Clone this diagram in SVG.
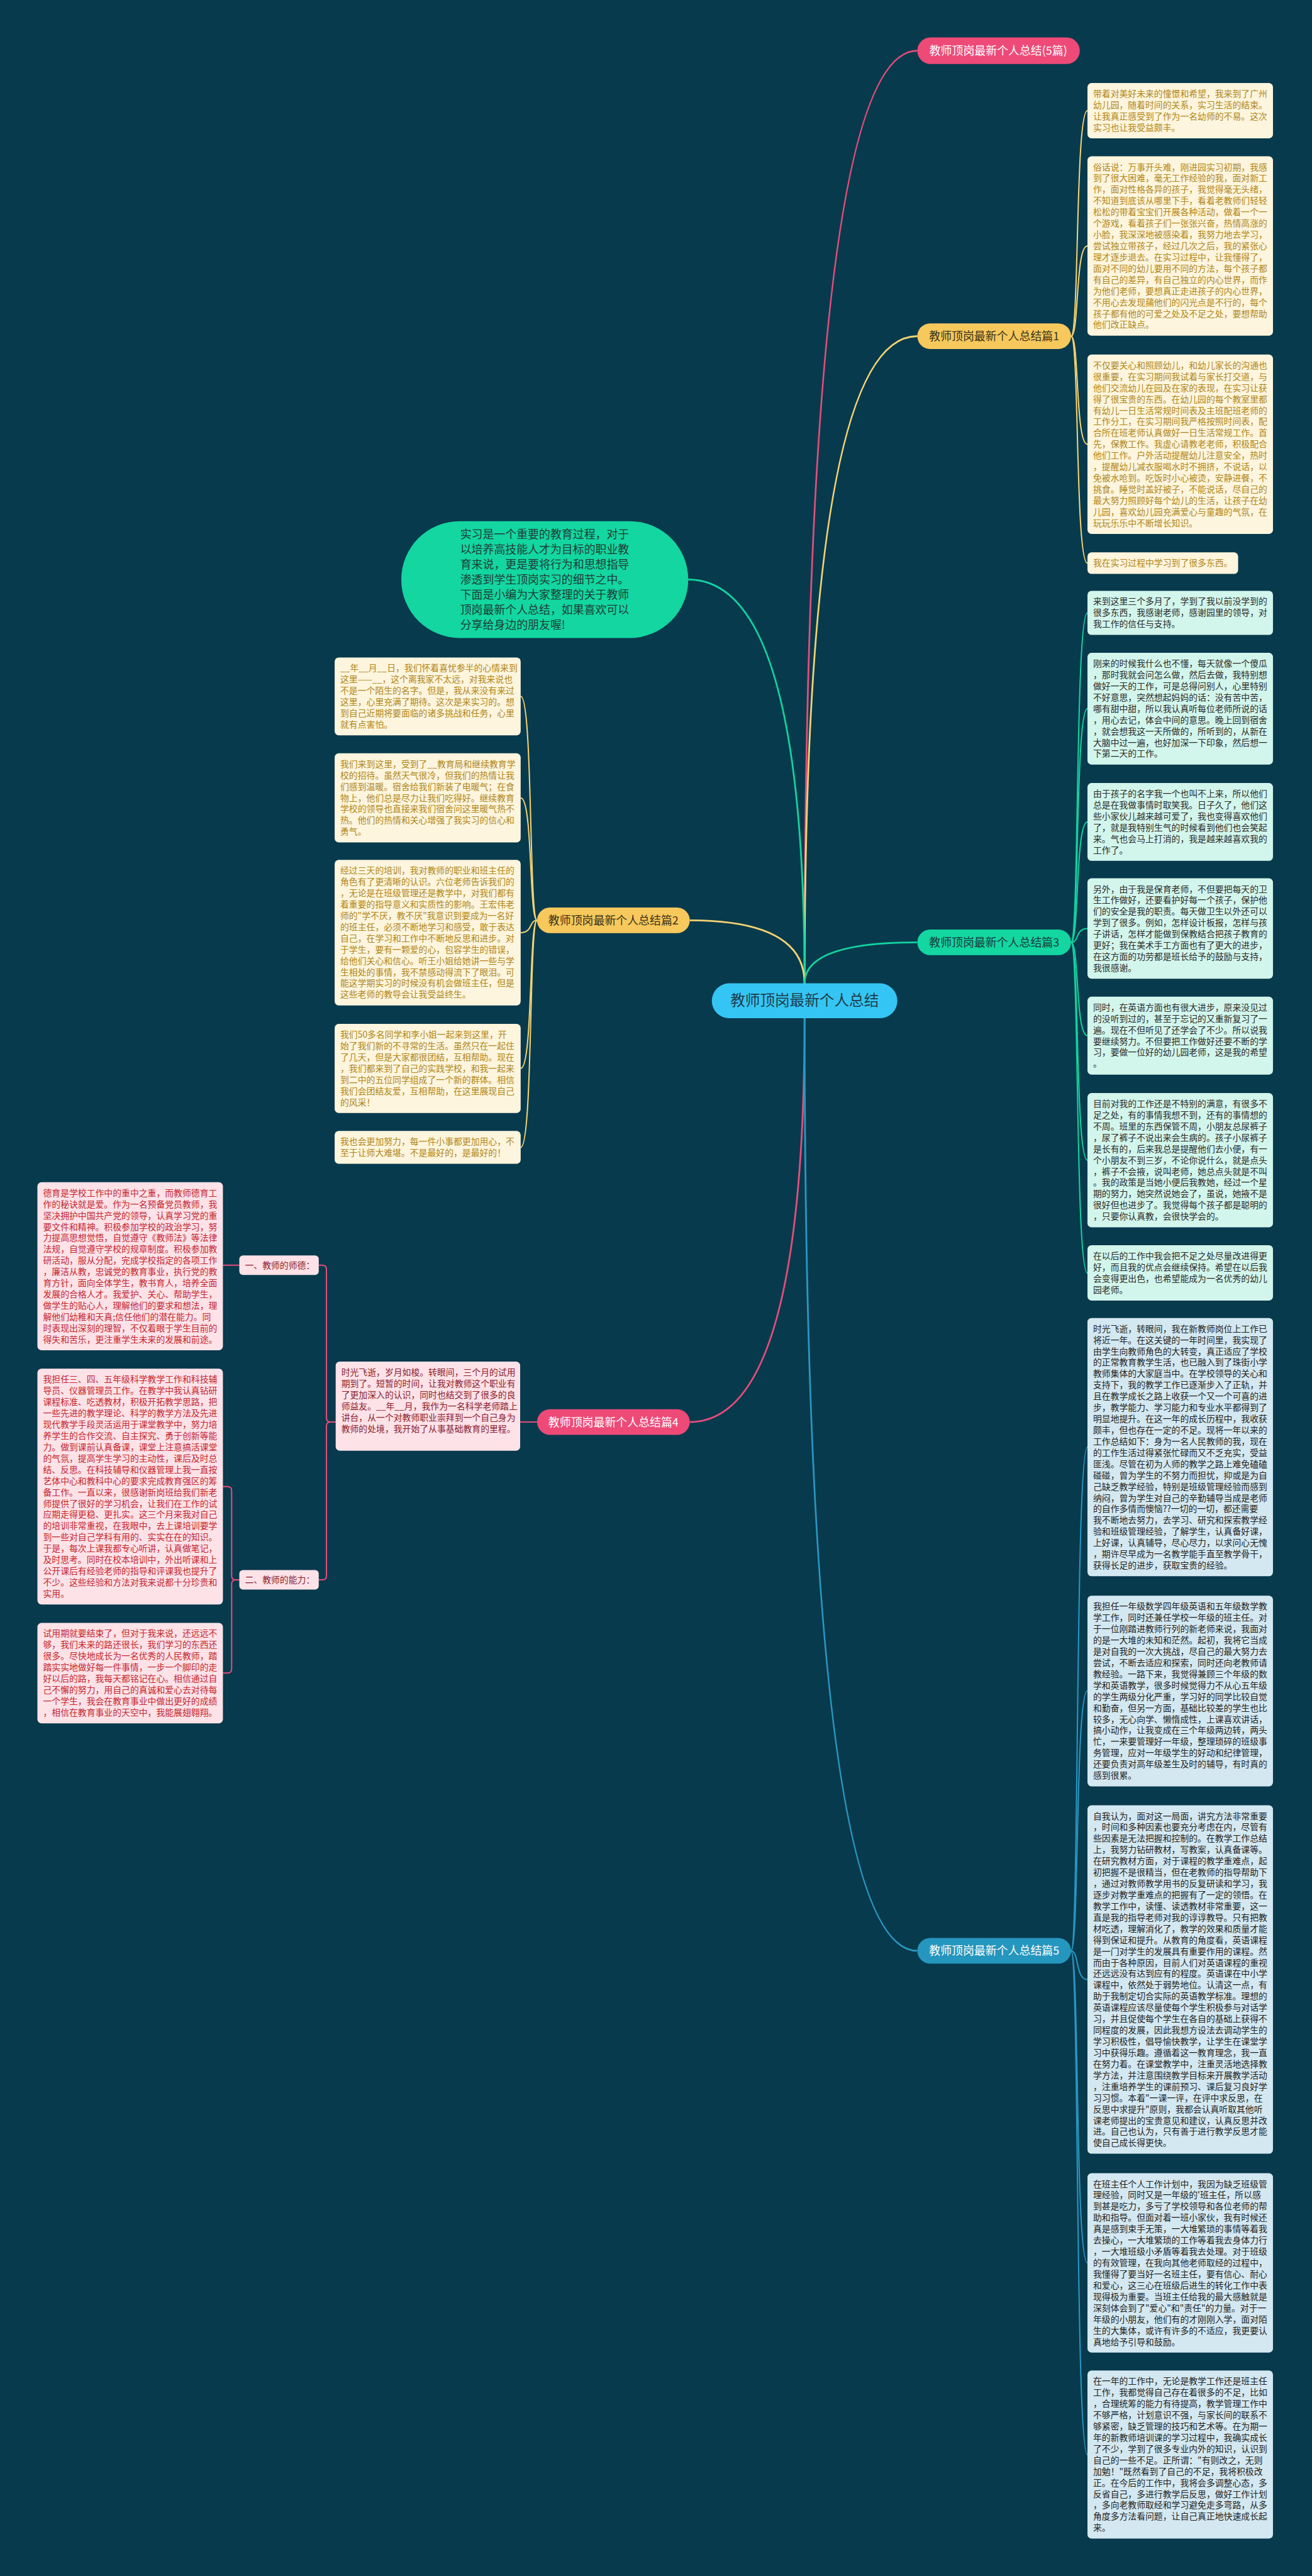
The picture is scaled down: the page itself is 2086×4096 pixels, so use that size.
<svg xmlns="http://www.w3.org/2000/svg" width="2086" height="4096" viewBox="0 0 2086 4096">
<style>
text{font-family:"Noto Sans CJK SC","Noto Sans",sans-serif}
.c{fill:none;stroke-width:3.5}
.b{fill:none;stroke-width:2.5}
.cy{stroke:#f5d373}.cg{stroke:#13d3a0}.cp{stroke:#e84d7b}.cb{stroke:#2a97c2}
.by{fill:#fdf5dd}.bg2{fill:#d2f6ec}.bb{fill:#d3e8f1}.bp{fill:#fde2e8}
.ty{fill:#b0851a;font-size:17px}.tg{fill:#2a2a2a;font-size:17px}.tb{fill:#1f1f1f;font-size:17px}.tp{fill:#c4262f;font-size:17px}.td{fill:#8b1c2c;font-size:17px}
.nt{font-size:22px;text-anchor:middle}
</style>
<rect width="2086" height="4096" fill="#083a4d"/>
<g transform="scale(0.8148)">
<g id="connectors">
<path class="c cp" d="M1570,1919 Q1570,99 1790,99"/>
<path class="c cy" d="M1570,1919 Q1570,656 1790,656"/>
<path class="c cg" d="M1570,1919 Q1570,1131 1343,1131"/>
<path class="c cy" d="M1570,1919 Q1570,1796 1346,1796"/>
<path class="c cg" d="M1570,1919 Q1570,1839 1790,1839"/>
<path class="c cp" d="M1570,1987 Q1570,2775 1346,2775"/>
<path class="c cb" d="M1570,1987 Q1570,3807 1790,3807"/>
<g class="b cy">
<path d="M2090,656 C2106,656 2098,216 2122,216"/>
<path d="M2090,656 C2106,656 2098,480 2122,480"/>
<path d="M2090,656 C2106,656 2098,867 2122,867"/>
<path d="M2090,656 C2106,656 2098,1099 2122,1099"/>
<path d="M1048,1796 C1032,1796 1040,1359 1016,1359"/>
<path d="M1048,1796 C1032,1796 1040,1557 1016,1557"/>
<path d="M1048,1796 C1032,1796 1040,1820 1016,1820"/>
<path d="M1048,1796 C1032,1796 1040,2085 1016,2085"/>
<path d="M1048,1796 C1032,1796 1040,2239 1016,2239"/>
</g>
<g class="b cg">
<path d="M2090,1839 C2106,1839 2098,1196 2122,1196"/>
<path d="M2090,1839 C2106,1839 2098,1383 2122,1383"/>
<path d="M2090,1839 C2106,1839 2098,1604 2122,1604"/>
<path d="M2090,1839 C2106,1839 2098,1812 2122,1812"/>
<path d="M2090,1839 C2106,1839 2098,2021 2122,2021"/>
<path d="M2090,1839 C2106,1839 2098,2264 2122,2264"/>
<path d="M2090,1839 C2106,1839 2098,2484 2122,2484"/>
</g>
<g class="b cb">
<path d="M2090,3807 C2106,3807 2098,2824 2122,2824"/>
<path d="M2090,3807 C2106,3807 2098,3300 2122,3300"/>
<path d="M2090,3807 C2106,3807 2098,3863 2122,3863"/>
<path d="M2090,3807 C2106,3807 2098,4416 2122,4416"/>
<path d="M2090,3807 C2106,3807 2098,4790 2122,4790"/>
</g>
<g class="b cp">
<path d="M1048,2775 L1015,2775"/>
<path d="M655,2775 H645 Q637,2775 637,2767 V2477 Q637,2469 629,2469 H622"/>
<path d="M655,2775 H645 Q637,2775 637,2783 V3075 Q637,3083 629,3083 H622"/>
<path d="M467,2469 H435"/>
<path d="M467,3083 H460 Q452,3083 452,3075 V2909 Q452,2901 444,2901 H435"/>
<path d="M467,3083 H460 Q452,3083 452,3091 V3257 Q452,3265 444,3265 H435"/>
</g>
</g>

<g id="root"><rect x="1389" y="1919" width="362" height="68" rx="34" fill="#35c5f4"/><text x="1570" y="1963" font-size="29" text-anchor="middle" fill="#1d3c4a">教师顶岗最新个人总结</text></g>

<g id="n5pian"><rect x="1790" y="73" width="317" height="52" rx="26" fill="#ee4a78"/><text class="nt" x="1948" y="107" fill="#ffffff">教师顶岗最新个人总结(5篇)</text></g>

<g id="intro"><rect x="783" y="1017" width="560" height="228" rx="114" fill="#13d6a0"/>
<text x="898" y="1051" font-size="22" fill="#1f3b36"><tspan x="898">实习是一个重要的教育过程，对于</tspan><tspan x="898" dy="29.4">以培养高技能人才为目标的职业教</tspan><tspan x="898" dy="29.4">育来说，更是要将行为和思想指导</tspan><tspan x="898" dy="29.4">渗透到学生顶岗实习的细节之中。</tspan><tspan x="898" dy="29.4">下面是小编为大家整理的关于教师</tspan><tspan x="898" dy="29.4">顶岗最新个人总结，如果喜欢可以</tspan><tspan x="898" dy="29.4">分享给身边的朋友喔!</tspan></text></g>

<g id="p1"><rect x="1790" y="631" width="300" height="50" rx="25" fill="#f7c85c"/><text class="nt" x="1940" y="664" fill="#3a3318">教师顶岗最新个人总结篇1</text></g>
<g id="p1a"><rect class="by" x="2122" y="162" width="362" height="108" rx="8"/><text class="ty" x="2133" y="189"><tspan x="2133">带着对美好未来的憧憬和希望，我来到了广州</tspan><tspan x="2133" dy="22">幼儿园，随着时间的关系，实习生活的结束。</tspan><tspan x="2133" dy="22">让我真正感受到了作为一名幼师的不易。这次</tspan><tspan x="2133" dy="22">实习也让我受益颇丰。</tspan></text></g>
<g id="p1b"><rect class="by" x="2122" y="305" width="362" height="350" rx="8"/><text class="ty" x="2133" y="332"><tspan x="2133">俗话说：万事开头难，刚进园实习初期，我感</tspan><tspan x="2133" dy="22">到了很大困难，毫无工作经验的我，面对新工</tspan><tspan x="2133" dy="22">作，面对性格各异的孩子，我觉得毫无头绪，</tspan><tspan x="2133" dy="22">不知道到底该从哪里下手，看着老教师们轻轻</tspan><tspan x="2133" dy="22">松松的带着宝宝们开展各种活动，做着一个一</tspan><tspan x="2133" dy="22">个游戏，看着孩子们一张张兴奋，热情高涨的</tspan><tspan x="2133" dy="22">小脸，我深深地被感染着，我努力地去学习，</tspan><tspan x="2133" dy="22">尝试独立带孩子，经过几次之后，我的紧张心</tspan><tspan x="2133" dy="22">理才逐步退去。在实习过程中，让我懂得了，</tspan><tspan x="2133" dy="22">面对不同的幼儿要用不同的方法，每个孩子都</tspan><tspan x="2133" dy="22">有自己的差异，有自己独立的内心世界，而作</tspan><tspan x="2133" dy="22">为他们老师，要想真正走进孩子的内心世界，</tspan><tspan x="2133" dy="22">不用心去发现蒱他们的闪光点是不行的，每个</tspan><tspan x="2133" dy="22">孩子都有他的可爱之处及不足之处，要想帮助</tspan><tspan x="2133" dy="22">他们改正缺点。</tspan></text></g>
<g id="p1c"><rect class="by" x="2122" y="692" width="362" height="350" rx="8"/><text class="ty" x="2133" y="719"><tspan x="2133">不仅要关心和照顾幼儿，和幼儿家长的沟通也</tspan><tspan x="2133" dy="22">很重要，在实习期间我试着与家长打交道，与</tspan><tspan x="2133" dy="22">他们交流幼儿在园及在家的表现，在实习让获</tspan><tspan x="2133" dy="22">得了很宝贵的东西。在幼儿园的每个教室里都</tspan><tspan x="2133" dy="22">有幼儿一日生活常规时间表及主班配班老师的</tspan><tspan x="2133" dy="22">工作分工，在实习期间我严格按照时间表，配</tspan><tspan x="2133" dy="22">合所在班老师认真做好一日生活常规工作。首</tspan><tspan x="2133" dy="22">先，保教工作。我虚心请教老老师，积极配合</tspan><tspan x="2133" dy="22">他们工作。户外活动提醒幼儿注意安全，热时</tspan><tspan x="2133" dy="22">，提醒幼儿减衣服喝水时不拥挤，不说话，以</tspan><tspan x="2133" dy="22">免被水呛到。吃饭时小心被烫，安静进餐，不</tspan><tspan x="2133" dy="22">挑食。睡觉时盖好被子，不能说话，尽自己的</tspan><tspan x="2133" dy="22">最大努力照顾好每个幼儿的生活，让孩子在幼</tspan><tspan x="2133" dy="22">儿园，喜欢幼儿园充满爱心与童趣的气氛，在</tspan><tspan x="2133" dy="22">玩玩乐乐中不断增长知识。</tspan></text></g>
<g id="p1d"><rect class="by" x="2122" y="1078" width="294" height="42" rx="8"/><text class="ty" x="2133" y="1105">我在实习过程中学习到了很多东西。</text></g>

<g id="p2"><rect x="1048" y="1771" width="298" height="50" rx="25" fill="#f7c85c"/><text class="nt" x="1197" y="1804" fill="#3a3318">教师顶岗最新个人总结篇2</text></g>
<g id="p2a"><rect class="by" x="653" y="1283" width="363" height="152" rx="8"/><text class="ty" x="664" y="1310"><tspan x="664">__年__月__日，我们怀着喜忧参半的心情来到</tspan><tspan x="664" dy="22">这里——__，这个离我家不太远，对我来说也</tspan><tspan x="664" dy="22">不是一个陌生的名字。但是，我从来没有来过</tspan><tspan x="664" dy="22">这里，心里充满了期待。这次是来实习的。想</tspan><tspan x="664" dy="22">到自己近期将要面临的诸多挑战和任务，心里</tspan><tspan x="664" dy="22">就有点害怕。</tspan></text></g>
<g id="p2b"><rect class="by" x="653" y="1470" width="363" height="174" rx="8"/><text class="ty" x="664" y="1497"><tspan x="664">我们来到这里，受到了__教育局和继续教育学</tspan><tspan x="664" dy="22">校的招待。虽然天气很冷，但我们的热情让我</tspan><tspan x="664" dy="22">们感到温暖。宿舍给我们新装了电暖气；在食</tspan><tspan x="664" dy="22">物上，他们总是尽力让我们吃得好。继续教育</tspan><tspan x="664" dy="22">学校的领导也直接来我们宿舍问这里暖气热不</tspan><tspan x="664" dy="22">热。他们的热情和关心增强了我实习的信心和</tspan><tspan x="664" dy="22">勇气。</tspan></text></g>
<g id="p2c"><rect class="by" x="653" y="1678" width="363" height="284" rx="8"/><text class="ty" x="664" y="1705"><tspan x="664">经过三天的培训，我对教师的职业和班主任的</tspan><tspan x="664" dy="22">角色有了更清晰的认识。六位老师告诉我们的</tspan><tspan x="664" dy="22">，无论是在班级管理还是教学中，对我们都有</tspan><tspan x="664" dy="22">着重要的指导意义和实质性的影响。王宏伟老</tspan><tspan x="664" dy="22">师的"学不厌，教不厌"我意识到要成为一名好</tspan><tspan x="664" dy="22">的班主任，必须不断地学习和感受，敢于表达</tspan><tspan x="664" dy="22">自己，在学习和工作中不断地反思和进步。对</tspan><tspan x="664" dy="22">于学生，要有一颗爱的心，包容学生的错误，</tspan><tspan x="664" dy="22">给他们关心和信心。听王小姐给她讲一些与学</tspan><tspan x="664" dy="22">生相处的事情，我不禁感动得流下了眼泪。可</tspan><tspan x="664" dy="22">能这学期实习的时候没有机会做班主任，但是</tspan><tspan x="664" dy="22">这些老师的教导会让我受益终生。</tspan></text></g>
<g id="p2d"><rect class="by" x="653" y="1998" width="363" height="174" rx="8"/><text class="ty" x="664" y="2025"><tspan x="664">我们50多名同学和李小姐一起来到这里，开</tspan><tspan x="664" dy="22">始了我们新的不寻常的生活。虽然只在一起住</tspan><tspan x="664" dy="22">了几天，但是大家都很团结，互相帮助。现在</tspan><tspan x="664" dy="22">，我们都来到了自己的实践学校，和我一起来</tspan><tspan x="664" dy="22">到二中的五位同学组成了一个新的群体。相信</tspan><tspan x="664" dy="22">我们会团结友爱，互相帮助，在这里展现自己</tspan><tspan x="664" dy="22">的风采！</tspan></text></g>
<g id="p2e"><rect class="by" x="653" y="2207" width="363" height="64" rx="8"/><text class="ty" x="664" y="2234"><tspan x="664">我也会更加努力，每一件小事都更加用心，不</tspan><tspan x="664" dy="22">至于让师大难堪。不是最好的，是最好的！</tspan></text></g>

<g id="p3"><rect x="1790" y="1814" width="300" height="50" rx="25" fill="#13d6a0"/><text class="nt" x="1940" y="1847" fill="#17393a">教师顶岗最新个人总结篇3</text></g>
<g id="p3a"><rect class="bg2" x="2122" y="1153" width="362" height="86" rx="8"/><text class="tg" x="2133" y="1180"><tspan x="2133">来到这里三个多月了，学到了我以前没学到的</tspan><tspan x="2133" dy="22">很多东西，我感谢老师，感谢园里的领导，对</tspan><tspan x="2133" dy="22">我工作的信任与支持。</tspan></text></g>
<g id="p3b"><rect class="bg2" x="2122" y="1274" width="362" height="218" rx="8"/><text class="tg" x="2133" y="1301"><tspan x="2133">刚来的时候我什么也不懂，每天就像一个傻瓜</tspan><tspan x="2133" dy="22">，那时我就会问怎么做，然后去做，我特别想</tspan><tspan x="2133" dy="22">做好一天的工作，可是总得问别人，心里特别</tspan><tspan x="2133" dy="22">不好意思，突然想起妈妈的话：没有苦中苦，</tspan><tspan x="2133" dy="22">哪有甜中甜，所以我认真听每位老师所说的话</tspan><tspan x="2133" dy="22">，用心去记，体会中间的意思。晚上回到宿舍</tspan><tspan x="2133" dy="22">，就会想我这一天所做的，所听到的，从新在</tspan><tspan x="2133" dy="22">大脑中过一遍，也好加深一下印象，然后想一</tspan><tspan x="2133" dy="22">下第二天的工作。</tspan></text></g>
<g id="p3c"><rect class="bg2" x="2122" y="1528" width="362" height="152" rx="8"/><text class="tg" x="2133" y="1555"><tspan x="2133">由于孩子的名字我一个也叫不上来，所以他们</tspan><tspan x="2133" dy="22">总是在我做事情时取笑我。日子久了，他们这</tspan><tspan x="2133" dy="22">些小家伙儿越来越可爱了，我也变得喜欢他们</tspan><tspan x="2133" dy="22">了，就是我特别生气的时候看到他们也会笑起</tspan><tspan x="2133" dy="22">来。气也会马上打消的，我是越来越喜欢我的</tspan><tspan x="2133" dy="22">工作了。</tspan></text></g>
<g id="p3d"><rect class="bg2" x="2122" y="1714" width="362" height="196" rx="8"/><text class="tg" x="2133" y="1741"><tspan x="2133">另外，由于我是保育老师，不但要把每天的卫</tspan><tspan x="2133" dy="22">生工作做好，还要看护好每一个孩子，保护他</tspan><tspan x="2133" dy="22">们的安全是我的职责。每天做卫生以外还可以</tspan><tspan x="2133" dy="22">学到了很多。例如，怎样设计板报，怎样与孩</tspan><tspan x="2133" dy="22">子讲话，怎样才能做到保教结合把孩子教育的</tspan><tspan x="2133" dy="22">更好；我在美术手工方面也有了更大的进步，</tspan><tspan x="2133" dy="22">在这方面的功劳都是班长给予的鼓励与支持，</tspan><tspan x="2133" dy="22">我很感谢。</tspan></text></g>
<g id="p3e"><rect class="bg2" x="2122" y="1945" width="362" height="152" rx="8"/><text class="tg" x="2133" y="1972"><tspan x="2133">同时，在英语方面也有很大进步，原来没见过</tspan><tspan x="2133" dy="22">的没听到过的，甚至于忘记的又重新复习了一</tspan><tspan x="2133" dy="22">遍。现在不但听见了还学会了不少。所以说我</tspan><tspan x="2133" dy="22">要继续努力。不但要把工作做好还要不断的学</tspan><tspan x="2133" dy="22">习，要做一位好的幼儿园老师，这是我的希望</tspan><tspan x="2133" dy="22">。</tspan></text></g>
<g id="p3f"><rect class="bg2" x="2122" y="2133" width="362" height="262" rx="8"/><text class="tg" x="2133" y="2160"><tspan x="2133">目前对我的工作还是不特别的满意，有很多不</tspan><tspan x="2133" dy="22">足之处，有的事情我想不到，还有的事情想的</tspan><tspan x="2133" dy="22">不周。班里的东西保管不周，小朋友总尿裤子</tspan><tspan x="2133" dy="22">，尿了裤子不说出来会生病的。孩子小尿裤子</tspan><tspan x="2133" dy="22">是长有的，后来我总是提醒他们去小便，有一</tspan><tspan x="2133" dy="22">个小朋友不到三岁，不论你说什么，就是点头</tspan><tspan x="2133" dy="22">，裤子不会掖，说叫老师，她总点头就是不叫</tspan><tspan x="2133" dy="22">。我的政策是当她小便后我教她，经过一个星</tspan><tspan x="2133" dy="22">期的努力，她突然说她会了，虽说，她掖不是</tspan><tspan x="2133" dy="22">很好但也进步了。我觉得每个孩子都是聪明的</tspan><tspan x="2133" dy="22">，只要你认真教，会很快学会的。</tspan></text></g>
<g id="p3g"><rect class="bg2" x="2122" y="2430" width="362" height="108" rx="8"/><text class="tg" x="2133" y="2457"><tspan x="2133">在以后的工作中我会把不足之处尽量改进得更</tspan><tspan x="2133" dy="22">好，而且我的优点会继续保持。希望在以后我</tspan><tspan x="2133" dy="22">会变得更出色，也希望能成为一名优秀的幼儿</tspan><tspan x="2133" dy="22">园老师。</tspan></text></g>

<g id="p4"><rect x="1048" y="2750" width="298" height="50" rx="25" fill="#ee4a78"/><text class="nt" x="1197" y="2783" fill="#ffffff">教师顶岗最新个人总结篇4</text></g>
<g id="p4main"><rect class="bp" x="655" y="2657" width="360" height="174" rx="8"/><text class="td" x="666" y="2684"><tspan x="666">时光飞逝，岁月如梭。转眼间，三个月的试用</tspan><tspan x="666" dy="22">期到了。短暂的时间，让我对教师这个职业有</tspan><tspan x="666" dy="22">了更加深入的认识，同时也结交到了很多的良</tspan><tspan x="666" dy="22">师益友。__年__月，我作为一名科学老师踏上</tspan><tspan x="666" dy="22">讲台，从一个对教师职业崇拜到一个自己身为</tspan><tspan x="666" dy="22">教师的处境，我开始了从事基础教育的里程。</tspan></text></g>
<g id="p4s1"><rect class="bp" x="467" y="2450" width="155" height="38" rx="7"/><text class="td" x="478" y="2475" font-size="16">一、教师的师德：</text></g>
<g id="p4s2"><rect class="bp" x="467" y="3064" width="155" height="38" rx="7"/><text class="td" x="478" y="3089" font-size="16">二、教师的能力：</text></g>
<g id="p4a"><rect class="bp" x="73" y="2307" width="362" height="328" rx="8"/><text class="tp" x="84" y="2334"><tspan x="84">德育是学校工作中的重中之重，而教师德育工</tspan><tspan x="84" dy="22">作的秘诀就是爱。作为一名预备党员教师，我</tspan><tspan x="84" dy="22">坚决拥护中国共产党的领导，认真学习党的重</tspan><tspan x="84" dy="22">要文件和精神。积极参加学校的政治学习，努</tspan><tspan x="84" dy="22">力提高思想觉悟，自觉遵守《教师法》等法律</tspan><tspan x="84" dy="22">法规，自觉遵守学校的规章制度。积极参加教</tspan><tspan x="84" dy="22">研活动，服从分配，完成学校指定的各项工作</tspan><tspan x="84" dy="22">，廉洁从教，忠诚党的教育事业，执行党的教</tspan><tspan x="84" dy="22">育方针，面向全体学生，教书育人，培养全面</tspan><tspan x="84" dy="22">发展的合格人才。我爱护、关心、帮助学生，</tspan><tspan x="84" dy="22">做学生的贴心人，理解他们的要求和想法，理</tspan><tspan x="84" dy="22">解他们幼稚和天真;信任他们的潜在能力。同</tspan><tspan x="84" dy="22">时表现出深刻的理智，不仅着眼于学生目前的</tspan><tspan x="84" dy="22">得失和苦乐，更注重学生未来的发展和前途。</tspan></text></g>
<g id="p4b"><rect class="bp" x="73" y="2671" width="362" height="460" rx="8"/><text class="tp" x="84" y="2698"><tspan x="84">我担任三、四、五年级科学教学工作和科技辅</tspan><tspan x="84" dy="22">导员、仪器管理员工作。在教学中我认真钻研</tspan><tspan x="84" dy="22">课程标准、吃透教材，积极开拓教学思路，把</tspan><tspan x="84" dy="22">一些先进的教学理论、科学的教学方法及先进</tspan><tspan x="84" dy="22">现代教学手段灵活运用于课堂教学中，努力培</tspan><tspan x="84" dy="22">养学生的合作交流、自主探究、勇于创新等能</tspan><tspan x="84" dy="22">力。做到课前认真备课，课堂上注意搞活课堂</tspan><tspan x="84" dy="22">的气氛，提高学生学习的主动性，课后及时总</tspan><tspan x="84" dy="22">结、反思。在科技辅导和仪器管理上我一直按</tspan><tspan x="84" dy="22">艺体中心和教科中心的要求完成教育强区的筹</tspan><tspan x="84" dy="22">备工作。一直以来，很感谢新岗班给我们新老</tspan><tspan x="84" dy="22">师提供了很好的学习机会，让我们在工作的试</tspan><tspan x="84" dy="22">应期走得更稳、更扎实。这三个月来我对自己</tspan><tspan x="84" dy="22">的培训非常重视，在我眼中，去上课培训要学</tspan><tspan x="84" dy="22">到一些对自己学科有用的、实实在在的知识。</tspan><tspan x="84" dy="22">于是，每次上课我都专心听讲，认真做笔记，</tspan><tspan x="84" dy="22">及时思考。同时在校本培训中，外出听课和上</tspan><tspan x="84" dy="22">公开课后有经验老师的指导和评课我也提升了</tspan><tspan x="84" dy="22">不少。这些经验和方法对我来说都十分珍贵和</tspan><tspan x="84" dy="22">实用。</tspan></text></g>
<g id="p4c"><rect class="bp" x="73" y="3167" width="362" height="196" rx="8"/><text class="tp" x="84" y="3194"><tspan x="84">试用期就要结束了，但对于我来说，还远远不</tspan><tspan x="84" dy="22">够，我们未来的路还很长，我们学习的东西还</tspan><tspan x="84" dy="22">很多。尽快地成长为一名优秀的人民教师，踏</tspan><tspan x="84" dy="22">踏实实地做好每一件事情，一步一个脚印的走</tspan><tspan x="84" dy="22">好以后的路，我每天都铭记在心。相信通过自</tspan><tspan x="84" dy="22">己不懈的努力，用自己的真诚和爱心去对待每</tspan><tspan x="84" dy="22">一个学生，我会在教育事业中做出更好的成绩</tspan><tspan x="84" dy="22">，相信在教育事业的天空中，我能展翅翱翔。</tspan></text></g>

<g id="p5"><rect x="1790" y="3782" width="300" height="50" rx="25" fill="#2596be"/><text class="nt" x="1940" y="3815" fill="#ffffff">教师顶岗最新个人总结篇5</text></g>
<g id="p5a"><rect class="bb" x="2122" y="2572" width="362" height="504" rx="8"/><text class="tb" x="2133" y="2599"><tspan x="2133">时光飞逝，转眼间，我在新教师岗位上工作已</tspan><tspan x="2133" dy="22">将近一年。在这关键的一年时间里，我实现了</tspan><tspan x="2133" dy="22">由学生向教师角色的大转变，真正适应了学校</tspan><tspan x="2133" dy="22">的正常教育教学生活，也已融入到了珠街小学</tspan><tspan x="2133" dy="22">教师集体的大家庭当中。在学校领导的关心和</tspan><tspan x="2133" dy="22">支持下，我的教学工作已逐渐步入了正轨，并</tspan><tspan x="2133" dy="22">且在教学成长之路上收获一个又一个可喜的进</tspan><tspan x="2133" dy="22">步，教学能力、学习能力和专业水平都得到了</tspan><tspan x="2133" dy="22">明显地提升。在这一年的成长历程中，我收获</tspan><tspan x="2133" dy="22">颇丰，但也存在一定的不足。现将一年以来的</tspan><tspan x="2133" dy="22">工作总结如下：身为一名人民教师的我，现在</tspan><tspan x="2133" dy="22">的工作生活过得紧张忙碌而又不乏充实，受益</tspan><tspan x="2133" dy="22">匪浅。尽管在初为人师的教学之路上难免磕磕</tspan><tspan x="2133" dy="22">碰碰，曾为学生的不努力而担忧，抑或是为自</tspan><tspan x="2133" dy="22">己缺乏教学经验，特别是班级管理经验而感到</tspan><tspan x="2133" dy="22">纳闷，曾为学生对自己的辛勤辅导当成是老师</tspan><tspan x="2133" dy="22">的自作多情而懊恼??一切的一切，都还需要</tspan><tspan x="2133" dy="22">我不断地去努力，去学习、研究和探索教学经</tspan><tspan x="2133" dy="22">验和班级管理经验，了解学生，认真备好课，</tspan><tspan x="2133" dy="22">上好课，认真辅导，尽心尽力，以求问心无愧</tspan><tspan x="2133" dy="22">，期许尽早成为一名教学能手直至教学骨干，</tspan><tspan x="2133" dy="22">获得长足的进步，获取宝贵的经验。</tspan></text></g>
<g id="p5b"><rect class="bb" x="2122" y="3114" width="362" height="372" rx="8"/><text class="tb" x="2133" y="3141"><tspan x="2133">我担任一年级数学四年级英语和五年级数学教</tspan><tspan x="2133" dy="22">学工作，同时还兼任学校一年级的班主任。对</tspan><tspan x="2133" dy="22">于一位刚踏进教师行列的新老师来说，我面对</tspan><tspan x="2133" dy="22">的是一大堆的未知和茫然。起初，我将它当成</tspan><tspan x="2133" dy="22">是对自我的一次大挑战，尽自己的最大努力去</tspan><tspan x="2133" dy="22">尝试，不断去适应和探索，同时还向老教师请</tspan><tspan x="2133" dy="22">教经验。一路下来，我觉得兼顾三个年级的数</tspan><tspan x="2133" dy="22">学和英语教学，很多时候觉得力不从心五年级</tspan><tspan x="2133" dy="22">的学生两级分化严重，学习好的同学比较自觉</tspan><tspan x="2133" dy="22">和勤奋，但另一方面，基础比较差的学生也比</tspan><tspan x="2133" dy="22">较多，无心向学、懒惰成性，上课喜欢讲话，</tspan><tspan x="2133" dy="22">搞小动作，让我变成在三个年级两边转，两头</tspan><tspan x="2133" dy="22">忙，一来要管理好一年级，整理琐碎的班级事</tspan><tspan x="2133" dy="22">务管理，应对一年级学生的好动和纪律管理，</tspan><tspan x="2133" dy="22">还要负责对高年级差生及时的辅导，有时真的</tspan><tspan x="2133" dy="22">感到很累。</tspan></text></g>
<g id="p5c"><rect class="bb" x="2122" y="3523" width="362" height="680" rx="8"/><text class="tb" x="2133" y="3550"><tspan x="2133">自我认为，面对这一局面，讲究方法非常重要</tspan><tspan x="2133" dy="22">，时间和多种因素也要充分考虑在内，尽管有</tspan><tspan x="2133" dy="22">些因素是无法把握和控制的。在教学工作总结</tspan><tspan x="2133" dy="22">上，我努力钻研教材，写教案，认真备课等。</tspan><tspan x="2133" dy="22">在研究教材方面，对于课程的教学重难点，起</tspan><tspan x="2133" dy="22">初把握不是很精当，但在老教师的指导帮助下</tspan><tspan x="2133" dy="22">，通过对教师教学用书的反复研读和学习，我</tspan><tspan x="2133" dy="22">逐步对教学重难点的把握有了一定的领悟。在</tspan><tspan x="2133" dy="22">教学工作中，读懂、读透教材非常重要，这一</tspan><tspan x="2133" dy="22">直是我的指导老师对我的谆谆教导。只有把教</tspan><tspan x="2133" dy="22">材吃透，理解消化了，教学的效果和质量才能</tspan><tspan x="2133" dy="22">得到保证和提升。从教育的角度看，英语课程</tspan><tspan x="2133" dy="22">是一门对学生的发展具有重要作用的课程。然</tspan><tspan x="2133" dy="22">而由于各种原因，目前人们对英语课程的重视</tspan><tspan x="2133" dy="22">还远远没有达到应有的程度。英语课在中小学</tspan><tspan x="2133" dy="22">课程中，依然处于弱势地位。认清这一点，有</tspan><tspan x="2133" dy="22">助于我制定切合实际的英语教学标准。理想的</tspan><tspan x="2133" dy="22">英语课程应该尽量使每个学生积极参与对话学</tspan><tspan x="2133" dy="22">习，并且促使每个学生在各自的基础上获得不</tspan><tspan x="2133" dy="22">同程度的发展，因此我想方设法去调动学生的</tspan><tspan x="2133" dy="22">学习积极性，倡导愉快教学，让学生在课堂学</tspan><tspan x="2133" dy="22">习中获得乐趣。遵循着这一教育理念，我一直</tspan><tspan x="2133" dy="22">在努力着。在课堂教学中，注重灵活地选择教</tspan><tspan x="2133" dy="22">学方法，并注意围绕教学目标来开展教学活动</tspan><tspan x="2133" dy="22">，注重培养学生的课前预习、课后复习良好学</tspan><tspan x="2133" dy="22">习习惯。本着"一课一评，在评中求反思，在</tspan><tspan x="2133" dy="22">反思中求提升"原则，我都会认真听取其他听</tspan><tspan x="2133" dy="22">课老师提出的宝贵意见和建议，认真反思并改</tspan><tspan x="2133" dy="22">进。自己也认为，只有善于进行教学反思才能</tspan><tspan x="2133" dy="22">使自己成长得更快。</tspan></text></g>
<g id="p5d"><rect class="bb" x="2122" y="4241" width="362" height="350" rx="8"/><text class="tb" x="2133" y="4268"><tspan x="2133">在班主任个人工作计划中，我因为缺乏班级管</tspan><tspan x="2133" dy="22">理经验，同时又是一年级的'班主任，所以感</tspan><tspan x="2133" dy="22">到甚是吃力，多亏了学校领导和各位老师的帮</tspan><tspan x="2133" dy="22">助和指导。但面对着一班小家伙，我有时候还</tspan><tspan x="2133" dy="22">真是感到束手无策，一大堆繁琐的事情等着我</tspan><tspan x="2133" dy="22">去操心，一大堆繁琐的工作等着我去身体力行</tspan><tspan x="2133" dy="22">，一大堆班级小矛盾等着我去处理。对于班级</tspan><tspan x="2133" dy="22">的有效管理，在我向其他老师取经的过程中，</tspan><tspan x="2133" dy="22">我懂得了要当好一名班主任，要有信心、耐心</tspan><tspan x="2133" dy="22">和爱心，这三心在班级后进生的转化工作中表</tspan><tspan x="2133" dy="22">现得极为重要。当班主任给我的最大感触就是</tspan><tspan x="2133" dy="22">深刻体会到了"爱心"和"责任"的力量。对于一</tspan><tspan x="2133" dy="22">年级的小朋友，他们有的才刚刚入学，面对陌</tspan><tspan x="2133" dy="22">生的大集体，或许有许多的不适应，我更要认</tspan><tspan x="2133" dy="22">真地给予引导和鼓励。</tspan></text></g>
<g id="p5e"><rect class="bb" x="2122" y="4626" width="362" height="328" rx="8"/><text class="tb" x="2133" y="4653"><tspan x="2133">在一年的工作中，无论是教学工作还是班主任</tspan><tspan x="2133" dy="22">工作，我都觉得自己存在着很多的不足，比如</tspan><tspan x="2133" dy="22">，合理统筹的能力有待提高，教学管理工作中</tspan><tspan x="2133" dy="22">不够严格，计划意识不强，与家长间的联系不</tspan><tspan x="2133" dy="22">够紧密，缺乏管理的技巧和艺术等。在为期一</tspan><tspan x="2133" dy="22">年的新教师培训课的学习过程中，我确实成长</tspan><tspan x="2133" dy="22">了不少，学到了很多专业内外的知识，认识到</tspan><tspan x="2133" dy="22">自己的一些不足。正所谓："有则改之，无则</tspan><tspan x="2133" dy="22">加勉！"既然看到了自己的不足，我将积极改</tspan><tspan x="2133" dy="22">正。在今后的工作中，我将会多调整心态，多</tspan><tspan x="2133" dy="22">反省自己，多进行教学后反思，做好工作计划</tspan><tspan x="2133" dy="22">，多向老教师取经和学习避免走多弯路，从多</tspan><tspan x="2133" dy="22">角度多方法看问题，让自己真正地快速成长起</tspan><tspan x="2133" dy="22">来。</tspan></text></g>
</g>
</svg>
